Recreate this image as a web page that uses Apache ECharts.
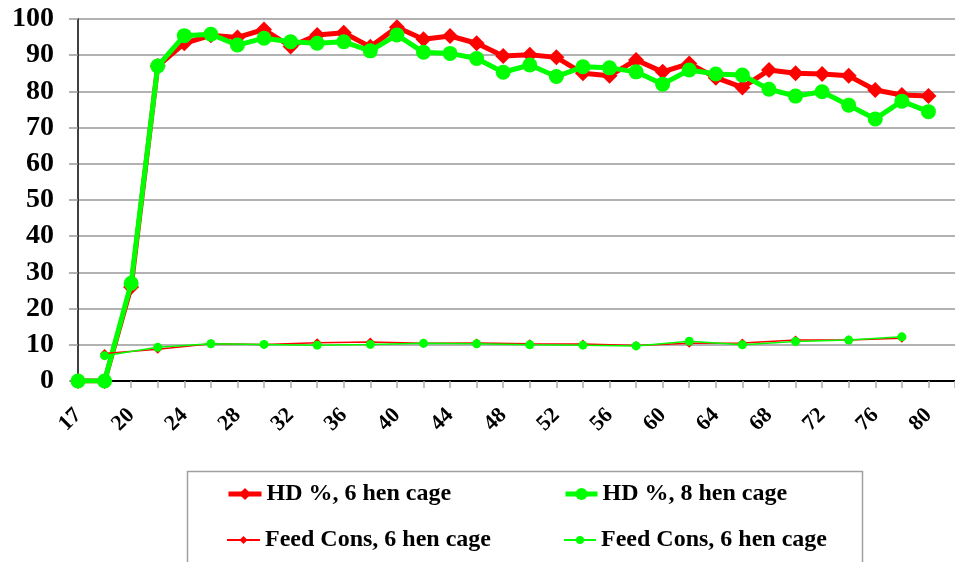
<!DOCTYPE html>
<html>
<head>
<meta charset="utf-8">
<script src="https://cdn.jsdelivr.net/npm/echarts@6/dist/echarts.min.js"></script>
<style>
html,body{margin:0;padding:0;background:#fff;}
#c{width:955px;height:562px;}
</style>
</head>
<body>
<div id="c"></div>
<script>
const categories = ['17','18','20','22','24','26','28','30','32','34','36','38','40','42','44','46','48','50','52','54','56','58','60','62','64','66','68','70','72','74','76','78','80'];
const hd6 = [0,0,26,87,93.3,95.5,94.9,97.1,92.4,95.6,96.2,92.3,97.7,94.4,95.3,93.3,89.8,90.1,89.4,85.0,84.3,88.7,85.4,87.7,83.8,81.1,85.9,85.0,84.8,84.3,80.4,79.0,78.7];
const hd8 = [0,0,27,87,95.4,95.8,92.8,94.7,93.7,93.3,93.7,91.2,95.6,90.8,90.5,89.1,85.3,87.3,84.1,86.8,86.5,85.4,82.0,85.9,84.8,84.5,80.6,78.7,79.9,76.2,72.4,77.3,74.4];
const feed6 = [null,7.6,null,8.8,null,10.3,null,10.1,null,10.6,null,10.8,null,10.4,null,10.5,null,10.3,null,10.2,null,9.8,null,10.4,null,10.5,null,11.3,null,11.3,null,11.8,null];
const feed8 = [null,7.0,null,9.3,null,10.3,null,10.1,null,9.9,null,10.1,null,10.4,null,10.3,null,10.0,null,9.9,null,9.7,null,11.0,null,10.0,null,10.9,null,11.3,null,12.2,null];
const seriesNames = ['HD %, 6 hen cage','HD %, 8 hen cage','Feed Cons, 6 hen cage','Feed Cons, 6 hen cage '];
const yTicks = {min:0, max:100, interval:10};

const FONT = "'Liberation Serif','Times New Roman',serif";
const chart = echarts.init(document.getElementById('c'), null, {renderer:'canvas'});
const legendText = {fontFamily:FONT, fontWeight:'bold', fontSize:24, color:'#000'};
function lg(name, left, top, w, h, lw){
  return {data:[name], left:left, top:top, padding:0, itemWidth:w, itemHeight:h,
    lineStyle:{width:lw}, textStyle:legendText};
}
chart.setOption({
  animation:false,
  backgroundColor:'#fff',
  grid:{left:78, right:-7, top:19, bottom:181, containLabel:false},
  xAxis:{
    type:'category', data:categories, boundaryGap:false, max:categories.length,
    axisLine:{show:true, lineStyle:{color:'#000', width:2}},
    axisTick:{show:true, interval:0, length:7, lineStyle:{color:'#aaa', width:1.5}},
    axisLabel:{interval:(i)=> i%2===0 && i<categories.length, rotate:45, margin:31,
      fontFamily:FONT, fontWeight:'bold', fontSize:22, color:'#000'},
    splitLine:{show:false}
  },
  yAxis:{
    type:'value', min:yTicks.min, max:yTicks.max, interval:yTicks.interval,
    axisLine:{show:true, lineStyle:{color:'#000', width:1.5}},
    axisTick:{show:true, length:9, lineStyle:{color:'#999', width:1.5}},
    axisLabel:{margin:24, fontFamily:FONT, fontWeight:'bold', fontSize:28, color:'#000'},
    splitLine:{show:true, lineStyle:{color:'#999', width:1.5}}
  },
  legend:[
    lg(seriesNames[0], 226, 482, 33, 15, 5),
    lg(seriesNames[2], 226, 528, 33, 10, 2),
    lg(seriesNames[1], 563, 482, 32, 15, 5),
    lg(seriesNames[3], 563, 528, 32, 10, 2)
  ],
  graphic:[{type:'rect', shape:{x:187.5, y:471.5, width:675, height:100},
    style:{fill:null, stroke:'#a0a0a0', lineWidth:1.5}, z:-1}],
  series:[
    {name:seriesNames[0], type:'line', data:hd6, symbol:'diamond', symbolSize:16,
     lineStyle:{color:'#ff0000', width:5}, itemStyle:{color:'#ff0000'}, z:2},
    {name:seriesNames[1], type:'line', data:hd8, symbol:'circle', symbolSize:15,
     lineStyle:{color:'#00ff00', width:5}, itemStyle:{color:'#00ff00'}, z:3},
    {name:seriesNames[2], type:'line', data:feed6, symbol:'diamond', symbolSize:9, connectNulls:true,
     lineStyle:{color:'#ff0000', width:1.5}, itemStyle:{color:'#ff0000'}, z:4},
    {name:seriesNames[3], type:'line', data:feed8, symbol:'circle', symbolSize:9, connectNulls:true,
     lineStyle:{color:'#00ff00', width:1.5}, itemStyle:{color:'#00ff00'}, z:5}
  ]
});
</script>
</body>
</html>
